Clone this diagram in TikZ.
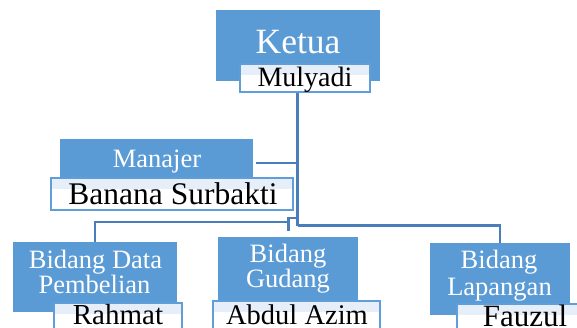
\documentclass[tikz,border=0pt]{standalone}
\usepackage{fontspec}
\setmainfont{Liberation Serif}
\definecolor{boxblue}{HTML}{5B9BD5}
\definecolor{linkblue}{HTML}{4A7EBB}
\definecolor{namestrip}{HTML}{E6EEF9}
\definecolor{nameedge}{HTML}{5F9ED8}
\tikzset{
  rolebox/.style={fill=boxblue, draw=none, inner sep=0pt},
  namebox/.style={fill=white, draw=nameedge, line width=2.4pt, inner sep=0pt,
    path picture={\fill[namestrip] (path picture bounding box.north west) rectangle ([yshift=-11pt]path picture bounding box.north east);}},
  roletext/.style={text=white, inner sep=0pt, anchor=base},
  nametext/.style={text=black, inner sep=0pt, anchor=base},
  link/.style={draw=linkblue, line width=2.6pt}
}
\begin{document}
\begin{tikzpicture}[x=1pt,y=-1pt]
\useasboundingbox (0,0) rectangle (577,327);
% boxes
\node[rolebox, minimum width=164pt, minimum height=71pt] (ketua) at (298,45.5) {};
\node[namebox, minimum width=130pt, minimum height=28pt] (mulyadi) at (305,78) {};
\node[rolebox, minimum width=193pt, minimum height=39pt] (manajer) at (156.5,158.5) {};
\node[namebox, minimum width=242pt, minimum height=32pt] (banana) at (172,194) {};
\node[rolebox, minimum width=164pt, minimum height=70pt] (data) at (95,277) {};
\node[namebox, minimum width=128pt, minimum height=32pt] (rahmat) at (118,319) {};
\node[rolebox, minimum width=140pt, minimum height=66pt] (gudang) at (288,270) {};
\node[namebox, minimum width=167pt, minimum height=32pt] (azim) at (296.5,317) {};
\node[rolebox, minimum width=140pt, minimum height=72pt] (lapangan) at (500,279) {};
\node[namebox, minimum width=138pt, minimum height=32pt] (fauzul) at (526,320) {};
% texts
\node[roletext, font=\fontsize{35.5}{35.5}\selectfont] (tketua) at (298,53) {Ketua};
\node[nametext, font=\fontsize{28}{28}\selectfont] (tmulyadi) at (305,86) {Mulyadi};
\node[roletext, font=\fontsize{26.5}{26.5}\selectfont] (tmanajer) at (157,167) {Manajer};
\node[nametext, font=\fontsize{31.5}{31.5}\selectfont] (tbanana) at (173,204) {Banana Surbakti};
\node[roletext, font=\fontsize{26.5}{26.5}\selectfont] (tdata1) at (95.5,268) {Bidang Data};
\node[roletext, font=\fontsize{26.5}{26.5}\selectfont] (tdata2) at (94.5,293) {Pembelian};
\node[nametext, font=\fontsize{29}{29}\selectfont] (trahmat) at (118,324) {Rahmat};
\node[roletext, font=\fontsize{26.5}{26.5}\selectfont] (tgud1) at (288,262) {Bidang};
\node[roletext, font=\fontsize{26.5}{26.5}\selectfont] (tgud2) at (288,287) {Gudang};
\node[nametext, font=\fontsize{28.5}{28.5}\selectfont] (tazim) at (297,324) {Abdul Azim};
\node[roletext, font=\fontsize{26.5}{26.5}\selectfont] (tlap1) at (499,268) {Bidang};
\node[roletext, font=\fontsize{26.5}{26.5}\selectfont] (tlap2) at (499.5,295) {Lapangan};
\node[nametext, font=\fontsize{31}{31}\selectfont] (tfauzul) at (525,326) {Fauzul};
% connectors
\coordinate (j0) at (297.5,225.5);
\coordinate (jg) at (297.5,218);
\coordinate (jg2) at (288.5,218);
\coordinate (jd) at (288.5,222);
\coordinate (gend) at (288.5,231);
\draw[link] (mulyadi.south -| j0) -- (j0);
\draw[link] (manajer.east |- 0,163) ++(3pt,0) -- (297.5,163);
\draw[link] (jg) -- (jg2) -- (gend);
\draw[link] (jd) -| (data.north);
\draw[link] (j0) -| (lapangan.north);
\end{tikzpicture}
\end{document}
